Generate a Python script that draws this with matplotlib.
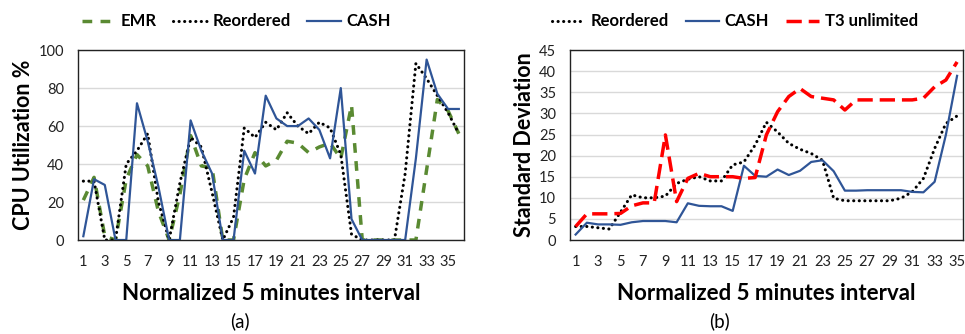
import matplotlib
matplotlib.use("Agg")
import matplotlib.pyplot as plt
import numpy as np

plt.rcParams['font.family'] = ['Lato', 'DejaVu Sans']
plt.rcParams['lines.scale_dashes'] = False

# (a) CPU utilization, 36 intervals
emr = [21, 33, 2, 0, 32, 45, 39, 15, 0, 24, 55, 39, 38, 0, 0, 32, 46, 39, 42, 52,
       51, 46, 49, 51, 43, 71, 0, 0, 0, 0, 0, 0, 37, 74, 68, 56]
reordered_a = [31, 31, 0, 0, 40, 47, 56, 20, 0, 30, 54, 49, 25, 0, 12, 59, 54, 62, 58, 67,
               60, 56, 62, 59, 45, 3, 0, 0, 0, 0, 35, 93, 85, 76, 67, 56]
cash_a = [2, 32, 29, 0, 0, 72, 52, 28, 0, 0, 63, 47, 35, 0, 0, 47, 35, 76, 64, 60,
          60, 64, 58, 43, 80, 11, 0, 0, 0, 0, 0, 43, 95, 77, 69, 69]

# (b) standard deviation, 35 intervals
reordered_b = [3.2, 3.2, 2.9, 2.6, 6.6, 10.7, 10.0, 10.0, 10.4, 13.4, 14.4, 15.0, 14.0, 14.0,
               17.8, 18.5, 22.5, 27.9, 25.6, 22.9, 21.5, 20.5, 18.9, 9.9, 9.3, 9.3, 9.3,
               9.3, 9.3, 9.9, 11.4, 14.6, 21.7, 27.6, 29.4]
cash_b = [1.3, 4.1, 3.7, 3.7, 3.6, 4.2, 4.5, 4.5, 4.5, 4.2, 8.7, 8.1, 8.0, 8.0, 6.9, 17.6,
          15.2, 15.0, 16.7, 15.4, 16.4, 18.5, 18.9, 16.3, 11.7, 11.7, 11.8, 11.8, 11.8,
          11.8, 11.4, 11.3, 13.8, 24.9, 38.9]
t3 = [3.2, 6.2, 6.2, 6.2, 6.3, 8.1, 8.8, 8.8, 24.9, 9.1, 14.6, 15.8, 15.0, 15.0, 15.0,
      14.6, 14.8, 24.9, 30.4, 34.0, 35.9, 34.0, 33.6, 33.2, 30.8, 33.2, 33.2, 33.2,
      33.2, 33.2, 33.2, 33.6, 36.3, 37.9, 42.2]

blue = '#2F5597'
green = '#5A8A32'
red = '#FF0000'
grid_c = '#D9D9D9'

fig = plt.figure(figsize=(9.65, 3.34), dpi=100)
ax1 = fig.add_axes([0.0808, 0.2814, 0.4002, 0.5686])
ax2 = fig.add_axes([0.5907, 0.2814, 0.4069, 0.5686])

dot_style = dict(color='black', lw=2.2, linestyle=(0, (0.1, 3.9)), dash_capstyle='round')

x1 = np.arange(1, len(cash_a) + 1)
ax1.plot(x1, emr, color=green, lw=2.5, linestyle=(0, (7, 6)), label='EMR')
ax1.plot(x1, reordered_a, label='Reordered', **dot_style)
ax1.plot(x1, cash_a, color=blue, lw=1.6, label='CASH')
ax1.set_xlim(0.5, len(cash_a) + 0.5)
ax1.set_ylim(0, 100)
ax1.set_yticks(range(0, 101, 20))
ax1.set_ylabel('CPU Utilization %', fontsize=15.5, fontweight='bold', labelpad=3)

x2 = np.arange(1, len(cash_b) + 1)
ax2.plot(x2, reordered_b, label='Reordered', **dot_style)
ax2.plot(x2, cash_b, color=blue, lw=1.6, label='CASH')
ax2.plot(x2, t3, color=red, lw=2.5, linestyle=(0, (11, 5)), label='T3 unlimited')
ax2.set_xlim(0.5, len(cash_b) + 0.5)
ax2.set_ylim(0, 45)
ax2.set_yticks(range(0, 46, 5))
ax2.set_ylabel('Standard Deviation', fontsize=15.5, fontweight='bold', labelpad=3)

for ax, n, lx in ((ax1, len(cash_a), 0.41), (ax2, len(cash_b), 0.42)):
    ax.set_xticks(range(1, n + 1, 2))
    ax.tick_params(length=0, labelsize=10.5, colors='#222222')
    ax.tick_params(axis='y', pad=10)
    ax.tick_params(axis='x', pad=11)
    ax.yaxis.grid(True, color=grid_c, lw=1)
    ax.set_axisbelow(True)
    for s in ax.spines.values():
        s.set_color('#222222')
        s.set_linewidth(1)
    ax.set_xlabel('Normalized 5 minutes interval', fontsize=16, fontweight='bold', labelpad=10)
    ax.legend(loc='lower center', bbox_to_anchor=(lx, 1.03), ncol=3, frameon=False,
              prop={'weight': 'bold', 'size': 12}, handlelength=2.0,
              columnspacing=1.0, handletextpad=0.35)

fig.text(0.249, 0.02, '(a)', fontsize=13.5, ha='center')
fig.text(0.746, 0.02, '(b)', fontsize=13.5, ha='center')

fig.savefig('out.png', dpi=100)
